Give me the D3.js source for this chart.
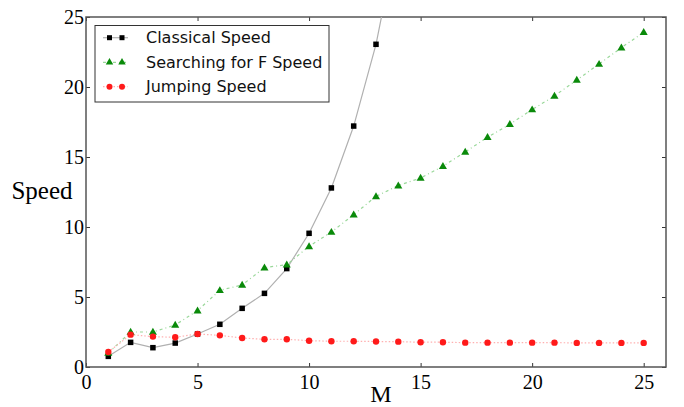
<!DOCTYPE html>
<html><head><meta charset="utf-8">
<script src="https://cdn.jsdelivr.net/npm/d3@7"></script>
<style>body{margin:0;background:#fff;} svg{display:block;}</style>
</head><body>
<script>
const mValues = d3.range(1, 26);
const classicalM = [1,2,3,4,5,6,7,8,9,10,11,12,13,14];
const classicalSpeed = [0.76,1.76,1.38,1.71,2.36,3.05,4.19,5.26,7.03,9.55,12.79,17.21,23.05,31.0];
const searchingSpeed = [1.0,2.5,2.5,3.0,4.03,5.48,5.86,7.1,7.31,8.62,9.64,10.88,12.19,12.96,13.5,14.34,15.36,16.41,17.34,18.39,19.36,20.5,21.64,22.81,23.91];
const jumpingSpeed = [1.07,2.31,2.17,2.12,2.36,2.26,2.07,1.98,1.98,1.88,1.84,1.84,1.82,1.81,1.77,1.77,1.74,1.74,1.74,1.74,1.74,1.72,1.72,1.72,1.72];
const xTicks = [0,5,10,15,20,25];
const yTicks = [0,5,10,15,20,25];
const legendLabels = ["Classical Speed","Searching for F Speed","Jumping Speed"];

const W = 684, H = 407;
const m = {left:86, right:684-666, top:17, bottom:407-367};
const iw = W - m.left - m.right, ih = H - m.top - m.bottom;
const svg = d3.select("body").append("svg").attr("width", W).attr("height", H);
const x = d3.scaleLinear().domain([0,26]).range([m.left, m.left+iw]);
const y = d3.scaleLinear().domain([0,25]).range([m.top+ih, m.top]);

svg.append("defs").append("clipPath").attr("id","clip").append("rect")
  .attr("x", m.left).attr("y", m.top).attr("width", iw).attr("height", ih);

const serif = "'Liberation Serif','Times New Roman',serif";
const sans = "'DejaVu Sans',sans-serif";

function styleAxis(g){
  g.select(".domain").remove();
  g.selectAll(".tick line").attr("stroke","#000").attr("stroke-width",0.8);
  g.selectAll("text").attr("font-family", serif).attr("font-size", 20).attr("fill","#000");
}
const xb = svg.append("g").attr("transform",`translate(0,${m.top+ih})`)
  .call(d3.axisBottom(x).tickValues(xTicks).tickSizeInner(-4).tickSizeOuter(0).tickPadding(8).tickFormat(d3.format("d")));
styleAxis(xb);
const xt = svg.append("g").attr("transform",`translate(0,${m.top})`)
  .call(d3.axisTop(x).tickValues(xTicks).tickSizeInner(-4).tickSizeOuter(0).tickFormat(""));
styleAxis(xt);
const yl = svg.append("g").attr("transform",`translate(${m.left},0)`)
  .call(d3.axisLeft(y).tickValues(yTicks).tickSizeInner(-4).tickSizeOuter(0).tickPadding(6).tickFormat(d3.format("d")));
styleAxis(yl);
yl.selectAll("text").attr("dx", 4);
const yr = svg.append("g").attr("transform",`translate(${m.left+iw},0)`)
  .call(d3.axisRight(y).tickValues(yTicks).tickSizeInner(-4).tickSizeOuter(0).tickFormat(""));
styleAxis(yr);

svg.append("rect").attr("x", m.left).attr("y", m.top).attr("width", iw).attr("height", ih)
  .attr("fill","none").attr("stroke","#555").attr("stroke-width",1.5);

const plot = svg.append("g").attr("clip-path","url(#clip)");
const line = d3.line().x(d=>x(d[0])).y(d=>y(d[1]));

const cData = classicalM.map((mm,i)=>[mm, classicalSpeed[i]]);
const sData = mValues.map((mm,i)=>[mm, searchingSpeed[i]]);
const jData = mValues.map((mm,i)=>[mm, jumpingSpeed[i]]);

plot.append("path").datum(cData).attr("d", line).attr("fill","none").attr("stroke","#b0b0b0").attr("stroke-width",1.2);
plot.append("path").datum(sData).attr("d", line).attr("fill","none").attr("stroke","#9ad89a").attr("stroke-width",1.2).attr("stroke-dasharray","3,3,1,3");
plot.append("path").datum(jData).attr("d", line).attr("fill","none").attr("stroke","#ffb0b0").attr("stroke-width",1.2).attr("stroke-dasharray","1.5,2");

const tri = d3.symbol().type(d3.symbolTriangle).size(28);
plot.selectAll(".sq").data(cData).enter().append("rect")
  .attr("x", d=>x(d[0])-2.75).attr("y", d=>y(d[1])-2.75).attr("width",5.5).attr("height",5.5).attr("fill","#000");
plot.selectAll(".tr").data(sData).enter().append("path")
  .attr("d", tri).attr("transform", d=>`translate(${x(d[0])},${y(d[1])+0.5})`).attr("fill","#0a8a0a");
plot.selectAll(".ci").data(jData).enter().append("circle")
  .attr("cx", d=>x(d[0])).attr("cy", d=>y(d[1])).attr("r",3.2).attr("fill","#ff1a1a");

svg.append("text").attr("x", 42).attr("y", 199).attr("text-anchor","middle")
  .attr("font-family", serif).attr("font-size", 25).text("Speed");
svg.append("text").attr("x", 381).attr("y", 402).attr("text-anchor","middle")
  .attr("font-family", serif).attr("font-size", 24).text("M");

const lg = svg.append("g");
lg.append("rect").attr("x",95).attr("y",25.5).attr("width",234).attr("height",76.5)
  .attr("fill","#fff").attr("stroke","#333").attr("stroke-width",1);
const rows = [37.7, 62.3, 86.7];
const lineStyles = [
  {stroke:"#b0b0b0", dash:null},
  {stroke:"#9ad89a", dash:"3,3,1,3"},
  {stroke:"#ffb0b0", dash:"1.5,2"}
];
rows.forEach((ry,i)=>{
  lg.append("line").attr("x1",103).attr("x2",128).attr("y1",ry).attr("y2",ry)
    .attr("stroke",lineStyles[i].stroke).attr("stroke-width",1.2).attr("stroke-dasharray",lineStyles[i].dash);
  [109.5,122].forEach(px=>{
    if(i===0) lg.append("rect").attr("x",px-2.5).attr("y",ry-2.5).attr("width",5).attr("height",5).attr("fill","#000");
    else if(i===1) lg.append("path").attr("d", d3.symbol().type(d3.symbolTriangle).size(24)).attr("transform",`translate(${px},${ry})`).attr("fill","#0a8a0a");
    else lg.append("circle").attr("cx",px).attr("cy",ry).attr("r",3).attr("fill","#ff1a1a");
  });
  lg.append("text").attr("x",146).attr("y",ry).attr("dy","0.36em")
    .attr("font-family",sans).attr("font-size",16).attr("fill","#111").text(legendLabels[i]);
});
</script>
</body></html>
